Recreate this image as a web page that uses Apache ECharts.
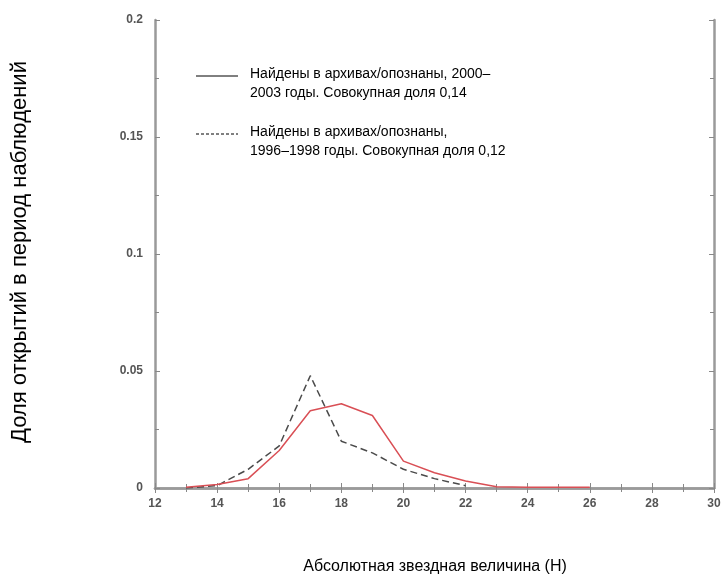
<!DOCTYPE html>
<html>
<head>
<meta charset="utf-8">
<script src="https://cdn.jsdelivr.net/npm/echarts@6/dist/echarts.min.js"></script>
<style>
  html, body { margin: 0; padding: 0; background: #fff; }
  #chart { width: 728px; height: 580px; }
</style>
</head>
<body>
<div id="chart"></div>
<script>
// Absolute magnitude (H) bins
const magnitudes2000 = [13, 14, 15, 16, 17, 18, 19, 20, 21, 22, 23, 24, 25, 26];
// Share of discoveries, archives/identified 2000–2003 (total 0.14)
const share2000 = [0.0003, 0.0015, 0.004, 0.016, 0.033, 0.036, 0.031, 0.0115, 0.0065, 0.003, 0.0005, 0.0003, 0.0003, 0.0003];

const magnitudes1996 = [13, 14, 15, 16, 17, 18, 19, 20, 21, 22];
// Share of discoveries, archives/identified 1996–1998 (total 0.12)
const share1996 = [0, 0.001, 0.008, 0.018, 0.048, 0.02, 0.015, 0.008, 0.004, 0.001];

const xTicks = { min: 12, max: 30, step: 2 };
const yTicks = { min: 0, max: 0.2, step: 0.05 };

const legendLines = [
  ['Найдены в архивах/опознаны, 2000–', '2003 годы. Совокупная доля 0,14'],
  ['Найдены в архивах/опознаны,', '1996–1998 годы. Совокупная доля 0,12']
];
const xName = 'Абсолютная звездная величина (H)';
const yName = 'Доля открытий в период наблюдений';

const frame = { color: '#9a9a9a', width: 2.5 };
const tickStyle = { inside: true, length: 5, lineStyle: { color: '#888', width: 1 } };
const minorStyle = { show: true, splitNumber: 2, length: 4, lineStyle: { color: '#888', width: 1 } };
const tickLabel = { fontFamily: 'Liberation Sans', fontSize: 12, fontWeight: 'bold', color: '#555' };

const pair = (xs, ys) => xs.map((x, i) => [x, ys[i]]);

const chart = echarts.init(document.getElementById('chart'), null, { renderer: 'canvas' });
chart.setOption({
  animation: false,
  backgroundColor: '#fff',
  grid: { left: 155, right: 14, top: 20, bottom: 92 },
  xAxis: [
    {
      type: 'value', position: 'bottom', min: xTicks.min, max: xTicks.max, interval: xTicks.step,
      axisLine: { lineStyle: frame }, axisTick: tickStyle, minorTick: minorStyle,
      splitLine: { show: false },
      axisLabel: Object.assign({ margin: 10 }, tickLabel)
    },
    {
      type: 'value', position: 'top', min: xTicks.min, max: xTicks.max, interval: xTicks.step,
      axisLine: { lineStyle: frame }, axisTick: tickStyle, minorTick: minorStyle,
      splitLine: { show: false }, axisLabel: { show: false }
    }
  ],
  yAxis: [
    {
      type: 'value', position: 'left', min: yTicks.min, max: yTicks.max, interval: yTicks.step,
      axisLine: { show: true, lineStyle: frame }, axisTick: tickStyle, minorTick: minorStyle,
      splitLine: { show: false },
      axisLabel: Object.assign({ margin: 12 }, tickLabel)
    },
    {
      type: 'value', position: 'right', min: yTicks.min, max: yTicks.max, interval: yTicks.step,
      axisLine: { show: true, lineStyle: frame }, axisTick: tickStyle, minorTick: minorStyle,
      splitLine: { show: false }, axisLabel: { show: false }
    }
  ],
  series: [
    {
      name: legendLines[1].join(' '), type: 'line', data: pair(magnitudes1996, share1996),
      symbol: 'none', lineStyle: { color: '#4a4a4a', width: 1.5, type: [7, 4] }, z: 3
    },
    {
      name: legendLines[0].join(' '), type: 'line', data: pair(magnitudes2000, share2000),
      symbol: 'none', lineStyle: { color: '#d94f55', width: 1.5 }, z: 4
    }
  ],
  graphic: [
    { type: 'line', shape: { x1: 196, y1: 76, x2: 238, y2: 76 }, style: { stroke: '#000', lineWidth: 1 } },
    { type: 'line', shape: { x1: 196, y1: 134, x2: 238, y2: 134 }, style: { stroke: '#000', lineWidth: 1, lineDash: [3, 2] } },
    { type: 'text', left: 250, top: 67, style: { text: legendLines[0][0], font: '14px "Liberation Sans", Arial', fill: '#000' } },
    { type: 'text', left: 250, top: 86, style: { text: legendLines[0][1], font: '14px "Liberation Sans", Arial', fill: '#000' } },
    { type: 'text', left: 250, top: 125, style: { text: legendLines[1][0], font: '14px "Liberation Sans", Arial', fill: '#000' } },
    { type: 'text', left: 250, top: 144, style: { text: legendLines[1][1], font: '14px "Liberation Sans", Arial', fill: '#000' } },
    { type: 'text', x: 435, y: 567, style: { text: xName, font: '16px "Liberation Sans", Arial', fill: '#000', textAlign: 'center', textVerticalAlign: 'middle' } },
    { type: 'text', x: 20, y: 252, rotation: Math.PI / 2, style: { text: yName, font: '22px "Liberation Sans", Arial', fill: '#000', textAlign: 'center', textVerticalAlign: 'middle' } }
  ]
});
</script>
</body>
</html>
